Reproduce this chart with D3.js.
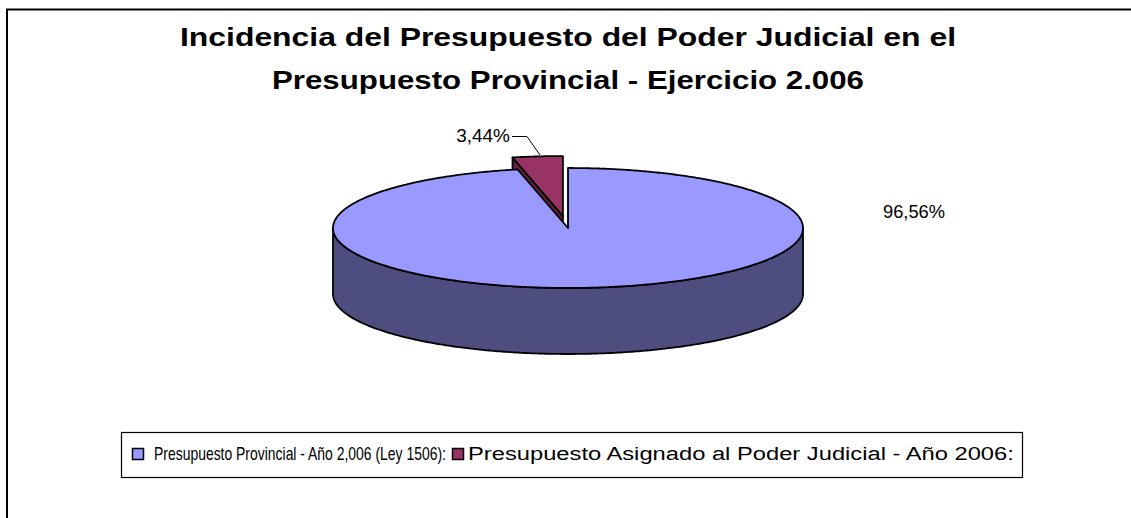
<!DOCTYPE html>
<html>
<head>
<meta charset="utf-8">
<script src="https://cdn.jsdelivr.net/npm/d3@7"></script>
<style>
  body { margin: 0; background: #fff; }
  text { font-family: "Liberation Sans", Arial, sans-serif; }
</style>
</head>
<body>
<svg width="1131" height="518"></svg>
<script>
// data
var categories = ["Presupuesto Provincial - Año 2,006 (Ley 1506):", "Presupuesto Asignado al Poder Judicial - Año 2006:"];
var values = [96.56, 3.44];
var labels = ["96,56%", "3,44%"];
var titleLines = ["Incidencia del Presupuesto del Poder Judicial en el", "Presupuesto Provincial - Ejercicio 2.006"];
var topColors = ["#9999ff", "#993366"];
var sideColors = ["#4d4d80", "#66223f"];

var svg = d3.select("svg"),
    width = +svg.attr("width"),
    height = +svg.attr("height");

// frame (top + left lines only)
svg.append("path")
    .attr("d", "M7,518 L7,9.5 L1131,9.5")
    .attr("fill", "none")
    .attr("stroke", "#000")
    .attr("stroke-width", 2);

// title
var titleLen = [776, 592];
svg.append("g").selectAll("text")
    .data(titleLines)
    .enter().append("text")
    .attr("x", 568)
    .attr("y", function(d, i) { return 46 + i * 43; })
    .attr("text-anchor", "middle")
    .attr("font-size", 26)
    .attr("font-weight", "bold")
    .attr("textLength", function(d, i) { return titleLen[i]; })
    .attr("lengthAdjust", "spacingAndGlyphs")
    .text(function(d) { return d; });

// 3d pie geometry
var cx = 568, cy = 228, rx = 235, ry = 60, depth = 66, explode = 0.2;

var pie = d3.pie().sort(null).value(function(d) { return d; });
var arcs = pie(values);

function pt(a, k, ox, oy, dz) {
  return [cx + ox + k * rx * Math.sin(a), cy + oy - k * ry * Math.cos(a) + (dz || 0)];
}

function offsetOf(d, i) {
  if (i === 0) return [0, 0];
  var mid = (d.startAngle + d.endAngle) / 2;
  return [explode * rx * Math.sin(mid), -explode * ry * Math.cos(mid)];
}

function arcPoints(a0, a1, o, dz) {
  var n = Math.max(2, Math.ceil(Math.abs(a1 - a0) / 0.01));
  return d3.range(n + 1).map(function(j) {
    return pt(a0 + (a1 - a0) * j / n, 1, o[0], o[1], dz);
  });
}

var line = d3.line();
var g = svg.append("g").attr("stroke", "#000").attr("stroke-width", 1.8).attr("stroke-linejoin", "round");

// draw the small (back) slice first, then the big one over it
[1, 0].forEach(function(i) {
  var d = arcs[i], o = offsetOf(d, i);
  var c = pt(0, 0, o[0], o[1]);

  // radial wall on the left edge (visible for the back slice)
  if (i === 1) {
    var p0 = pt(d.startAngle, 1, o[0], o[1]);
    g.append("path")
        .attr("d", line([c, p0, [p0[0], p0[1] + depth], [c[0], c[1] + depth]]) + "Z")
        .attr("fill", sideColors[i]);
  }

  // front outer wall
  var a0 = Math.max(d.startAngle, Math.PI / 2), a1 = Math.min(d.endAngle, 3 * Math.PI / 2);
  if (a1 > a0) {
    var topPts = arcPoints(a0, a1, o, 0);
    var botPts = arcPoints(a1, a0, o, depth);
    g.append("path")
        .attr("d", line(topPts.concat(botPts)) + "Z")
        .attr("fill", sideColors[i]);
  }

  // top face
  g.append("path")
      .attr("d", line([c].concat(arcPoints(d.startAngle, d.endAngle, o, 0))) + "Z")
      .attr("fill", topColors[i]);
});

// data labels
svg.append("text")
    .attr("x", 883).attr("y", 218)
    .attr("font-size", 19)
    .attr("textLength", 62)
    .attr("lengthAdjust", "spacingAndGlyphs")
    .text(labels[0]);

svg.append("text")
    .attr("x", 510).attr("y", 142)
    .attr("text-anchor", "end")
    .attr("font-size", 19)
    .text(labels[1]);

svg.append("path")
    .attr("d", "M512,136.5 L527,136.5 L540,155")
    .attr("fill", "none")
    .attr("stroke", "#000")
    .attr("stroke-width", 1);

// legend
var legend = svg.append("g");
legend.append("rect")
    .attr("x", 121.5).attr("y", 432.5)
    .attr("width", 901).attr("height", 45)
    .attr("fill", "#fff")
    .attr("stroke", "#000")
    .attr("stroke-width", 1.2);

var legX = [132, 452];
var legTextX = [154, 468];
var legTextLen = [292, 546];

legend.selectAll("rect.key")
    .data(categories)
    .enter().append("rect")
    .attr("class", "key")
    .attr("x", function(d, i) { return legX[i] + 0.5; })
    .attr("y", 448.5)
    .attr("width", 11).attr("height", 11)
    .attr("fill", function(d, i) { return topColors[i]; })
    .attr("stroke", "#000")
    .attr("stroke-width", 1.5);

// squeeze/stretch each legend text horizontally to the width it has in the picture
legend.selectAll("text")
    .data(categories)
    .enter().append("text")
    .attr("font-size", 19)
    .text(function(d) { return d; })
    .attr("transform", function(d, i) {
      var w = this.getComputedTextLength();
      return "translate(" + legTextX[i] + ",460) scale(" + (legTextLen[i] / w) + ",1)";
    });
</script>
</body>
</html>
